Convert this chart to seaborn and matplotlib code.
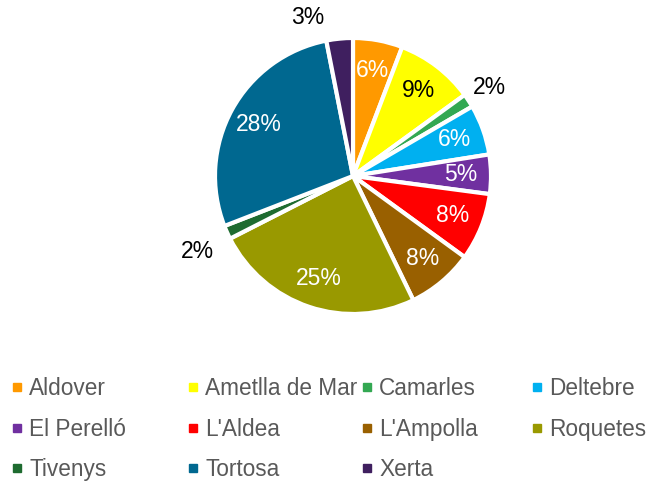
import matplotlib
matplotlib.use("Agg")
import matplotlib.pyplot as plt
import seaborn as sns
import numpy as np
from matplotlib.lines import Line2D

sns.set_theme(style="white")
plt.rcParams['font.family'] = ['Liberation Sans', 'DejaVu Sans']

categories = ["Aldover", "Ametlla de Mar", "Camarles", "Deltebre", "El Perelló",
              "L'Aldea", "L'Ampolla", "Roquetes", "Tivenys", "Tortosa", "Xerta"]
values = [5.8, 9.2, 1.6, 5.9, 4.6, 7.9, 7.8, 24.7, 1.6, 27.8, 3.1]
colors = ["#FF9900", "#FFFF00", "#33A852", "#00B0F0", "#7030A0",
          "#FF0000", "#996000", "#999900", "#1E6B30", "#006890", "#3F1F5F"]

W, H = 649, 482
fig = plt.figure(figsize=(W / 100, H / 100), dpi=100)
cx, cy, R = 353, 176, 138
ax = fig.add_axes([(cx - R) / W, (H - cy - R) / H, 2 * R / W, 2 * R / H])

wedges, texts, autotexts = ax.pie(
    values, colors=colors, startangle=90, counterclock=False,
    autopct=lambda p: f"{p:.0f}%", pctdistance=0.78,
    wedgeprops=dict(edgecolor="white", linewidth=3),
    textprops=dict(fontsize=16.5, color="white"))
ax.set_xlim(-1, 1)
ax.set_ylim(-1, 1)
ax.set_aspect("equal")
ax.axis("off")

# outside label placements (small slices)
outside = {2: (0.99, 0.64), 8: (-1.13, -0.55), 10: (-0.33, 1.15)}
for i, t in enumerate(autotexts):
    t.set_clip_on(False)
    if i in outside:
        t.set_position(outside[i])
        t.set_color("black")
    if categories[i] == "Ametlla de Mar":
        t.set_color("black")

# legend: 4 columns, row-wise order
col_x = [11, 187, 361, 531]
top_y = 377
for j in range(4):
    idx = list(range(j, len(categories), 4))
    handles = [Line2D([], [], marker="s", linestyle="", markersize=5.8,
                      markerfacecolor=colors[i], markeredgecolor=colors[i]) for i in idx]
    fig.legend(handles, [categories[i] for i in idx], loc="upper left",
               bbox_to_anchor=(col_x[j] / W, 1 - top_y / H), frameon=False,
               fontsize=16.3, labelcolor="#595959", handlelength=0.5,
               handletextpad=0.3, labelspacing=0.78, borderaxespad=0,
               borderpad=0)

fig.savefig("out.png", dpi=100)
